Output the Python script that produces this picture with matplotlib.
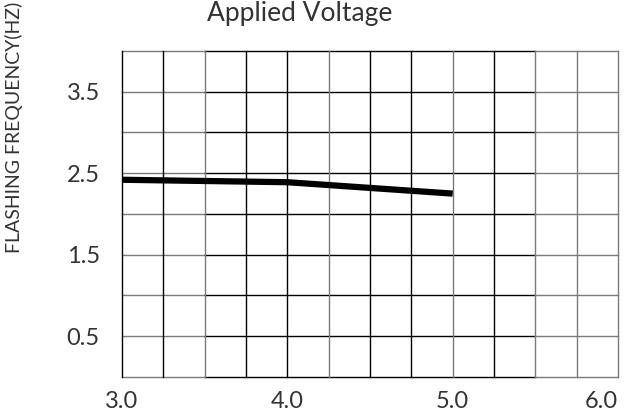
import numpy as np
import matplotlib
matplotlib.use("Agg")
import matplotlib.pyplot as plt

# podatki odčitani s slike
voltage = [3.0, 4.0, 5.0]
freq = [2.42, 2.39, 2.25]

x_ticks = [3.0, 4.0, 5.0, 6.0]
x_labels = ["3.0", "4.0", "5.0", "6.0"]
y_ticks = [0.5, 1.5, 2.5, 3.5]
y_labels = ["0.5", "1.5", "2.5", "3.5"]

plt.rcParams['font.family'] = ['Lato', 'DejaVu Sans']

fig = plt.figure(figsize=(6.3, 4.16), dpi=100)
ax = fig.add_axes([0.1937, 0.0938, 0.7873, 0.7836])
ax.set_xlim(3.0, 6.0)
ax.set_ylim(0.0, 4.0)

# mreža - vodoravne črte, sredina črna, robovi sivi
for y in np.arange(0.0, 4.01, 0.5):
    ax.plot([3.0, 3.5], [y, y], color='#7a7a7a', lw=1.0, zorder=1, clip_on=False)
    ax.plot([3.5, 5.5], [y, y], color='black', lw=1.0, zorder=1, clip_on=False)
    ax.plot([5.5, 6.0], [y, y], color='#7a7a7a', lw=1.0, zorder=1, clip_on=False)

# navpične črte
grey_x = [3.5, 4.25, 5.0, 5.5, 5.75, 6.0]
for x in np.arange(3.0, 6.01, 0.25):
    c = '#7a7a7a' if any(abs(x - g) < 1e-6 for g in grey_x) else 'black'
    ax.plot([x, x], [0.0, 4.0], color=c, lw=1.0, zorder=1, clip_on=False)

for s in ax.spines.values():
    s.set_visible(False)

ax.plot(voltage, freq, color='black', lw=4.5, solid_capstyle='butt', zorder=3)

ax.set_xticks(x_ticks)
ax.set_xticklabels(x_labels)
ax.set_yticks(y_ticks)
ax.set_yticklabels(y_labels)
ax.tick_params(axis='both', length=0, labelsize=17, labelcolor='#333333')
ax.tick_params(axis='x', pad=10)
ax.tick_params(axis='y', pad=16)
ax.get_xticklabels()[-1].set_ha('right')
ax.get_xticklabels()[-1].set_x(6.03)

fig.text(0.022, 0.695, "FLASHING FREQUENCY(HZ)", rotation=90, ha='center',
         va='center', fontsize=14, color='#333333')
fig.text(0.476, 0.998, "Applied Voltage", ha='center', va='top',
         fontsize=19, color='#333333')

fig.savefig("out.png", dpi=100)
